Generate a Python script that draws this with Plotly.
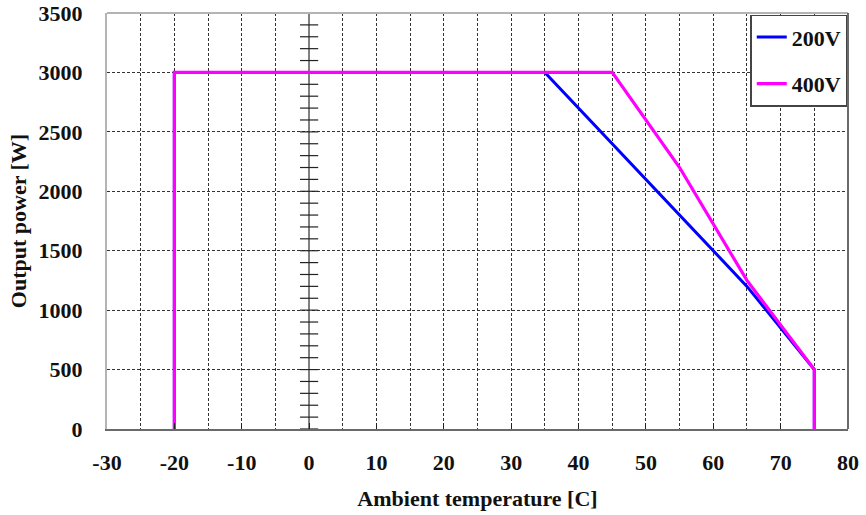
import plotly.graph_objects as go

# Derating curves: output power vs ambient temperature
temp_200v = [-20, -20, 35, 45, 55, 65, 75, 75]
power_200v = [0, 3000, 3000, 2400, 1800, 1200, 500, 0]

temp_400v = [-20, -20, 45, 55, 65, 75, 75]
power_400v = [0, 3000, 3000, 2200, 1250, 500, 0]

x_ticks = [-30, -20, -10, 0, 10, 20, 30, 40, 50, 60, 70, 80]
y_ticks = [0, 500, 1000, 1500, 2000, 2500, 3000, 3500]
# small tick marks along the vertical axis at T = 0
minor_y = list(range(0, 3501, 100))

FONT = "Liberation Serif, Times New Roman, serif"
GRID = "#333333"

fig = go.Figure()

fig.add_trace(go.Scatter(
    x=[0] * len(minor_y), y=minor_y, mode="markers",
    marker=dict(symbol="line-ew", size=13, line=dict(width=1.2, color="#222222")),
    showlegend=False, hoverinfo="skip", cliponaxis=False,
))

fig.add_trace(go.Scatter(
    x=temp_200v, y=power_200v, mode="lines", name="200V",
    line=dict(color="#0000FF", width=3), legendgroup="a",
))
fig.add_trace(go.Scatter(
    x=temp_400v, y=power_400v, mode="lines", name="400V",
    line=dict(color="#FF00FF", width=3.2), legendgroup="b",
))

axis_font = dict(family=FONT, size=22, color="#111111", weight="bold")

fig.update_layout(
    width=866, height=515, autosize=False,
    margin=dict(l=107, r=18, t=13, b=86),
    paper_bgcolor="white", plot_bgcolor="white",
    showlegend=True,
    legend=dict(
        x=0.999, y=0.996, xanchor="right", yanchor="top",
        bgcolor="white", bordercolor="#444444", borderwidth=1.5,
        font=dict(family=FONT, size=22, color="#111111", weight="bold"),
        traceorder="grouped", tracegroupgap=15,
    ),
    xaxis=dict(
        range=[-30, 80], tickvals=x_ticks, ticktext=[str(v) for v in x_ticks],
        tickfont=axis_font, ticks="inside", ticklen=6, tickwidth=1.2, tickcolor="#222222",
        ticklabelstandoff=13, automargin=False,
        showgrid=True, gridcolor=GRID, gridwidth=1, griddash="3px,2px",
        minor=dict(dtick=5, tick0=0, showgrid=True, gridcolor=GRID, gridwidth=1,
                   griddash="3px,2px", ticks=""),
        zeroline=True, zerolinecolor="#808080", zerolinewidth=2,
        showline=True, linecolor="#6a6a6a", linewidth=2,
        title=dict(text="Ambient temperature [C]", font=axis_font, standoff=16),
    ),
    yaxis=dict(
        range=[0, 3500], tickvals=y_ticks, ticktext=[str(v) for v in y_ticks],
        tickfont=axis_font, ticks="", ticklabelstandoff=18, automargin=False,
        showgrid=True, gridcolor=GRID, gridwidth=1, griddash="3px,2px",
        zeroline=False,
        showline=True, linecolor="#b4b4b4", linewidth=2,
        title=dict(text="Output power [W]", font=axis_font, standoff=6),
    ),
    shapes=[
        # top and right frame edges
        dict(type="line", xref="paper", yref="paper", x0=0, x1=1, y0=1, y1=1,
             line=dict(color="#b4b4b4", width=2), layer="above"),
        dict(type="line", xref="paper", yref="paper", x0=1, x1=1, y0=0, y1=1,
             line=dict(color="#6a6a6a", width=2), layer="above"),
    ],
)

fig.write_html("out.html")
